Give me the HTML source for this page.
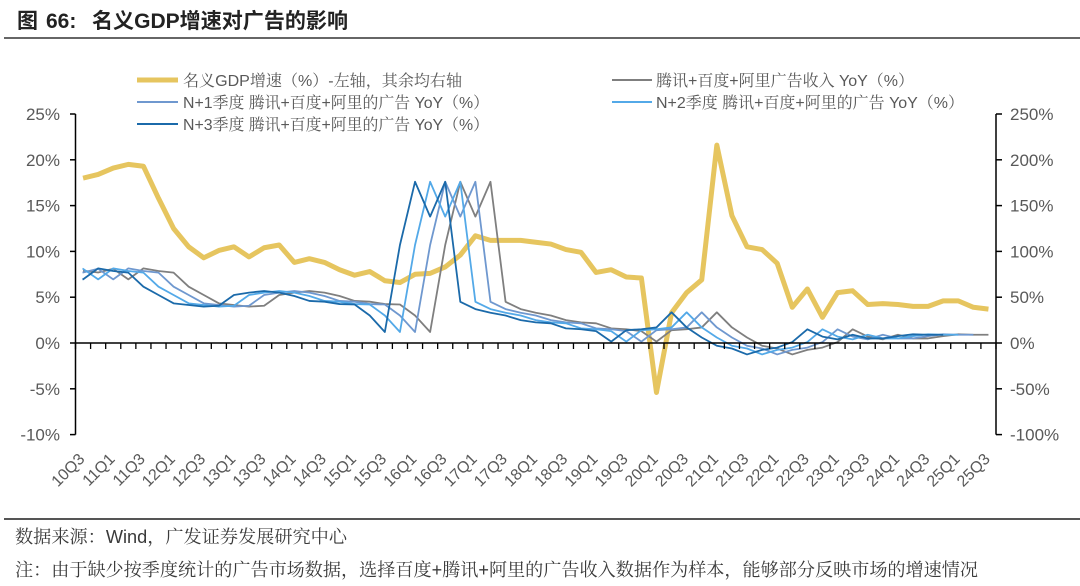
<!DOCTYPE html>
<html>
<head>
<meta charset="utf-8">
<style>
  html,body{margin:0;padding:0;background:#fff;}
  body{width:1080px;height:586px;overflow:hidden;}
  svg{display:block;}
  .lg{font-family:"Liberation Sans","Noto Serif CJK SC",serif;font-size:16px;fill:#595959;}
  .ax{font-family:"Liberation Sans",sans-serif;font-size:17px;fill:#595959;}
  .xl{font-family:"Liberation Sans",sans-serif;font-size:16px;fill:#595959;}
  .ft{font-family:"Liberation Sans","Noto Serif CJK SC",serif;font-size:18px;fill:#3a3a3a;}
  .tt{font-family:"Liberation Sans","Noto Sans CJK SC",sans-serif;font-size:21px;font-weight:bold;fill:#222;}
</style>
</head>
<body>
<svg width="1080" height="586" viewBox="0 0 1080 586" xmlns="http://www.w3.org/2000/svg">
  <rect x="0" y="0" width="1080" height="586" fill="#fff"/>

  <!-- Title -->
  <text class="tt" x="17" y="28">图</text>
  <text class="tt" x="46" y="28">66:</text>
  <text class="tt" x="92" y="28" textLength="256" lengthAdjust="spacingAndGlyphs">名义GDP增速对广告的影响</text>
  <line x1="4" y1="38" x2="1080" y2="38" stroke="#333" stroke-width="1.5"/>

  <!-- Legend -->
  <line x1="137" y1="80" x2="178" y2="80" stroke="#E6C55F" stroke-width="5"/>
  <text class="lg" x="183" y="86" textLength="279" lengthAdjust="spacingAndGlyphs">名义GDP增速（%）-左轴，其余均右轴</text>
  <line x1="137" y1="102" x2="178" y2="102" stroke="#6F98CF" stroke-width="2"/>
  <text class="lg" x="183" y="108" textLength="306" lengthAdjust="spacingAndGlyphs">N+1季度 腾讯+百度+阿里的广告 YoY（%）</text>
  <line x1="137" y1="124" x2="178" y2="124" stroke="#1B6AAA" stroke-width="2"/>
  <text class="lg" x="183" y="130" textLength="306" lengthAdjust="spacingAndGlyphs">N+3季度 腾讯+百度+阿里的广告 YoY（%）</text>
  <line x1="612" y1="80" x2="652" y2="80" stroke="#7F7F7F" stroke-width="2"/>
  <text class="lg" x="656" y="86" textLength="258" lengthAdjust="spacingAndGlyphs">腾讯+百度+阿里广告收入 YoY（%）</text>
  <line x1="612" y1="102" x2="652" y2="102" stroke="#53A9E8" stroke-width="2"/>
  <text class="lg" x="656" y="108" textLength="308" lengthAdjust="spacingAndGlyphs">N+2季度 腾讯+百度+阿里的广告 YoY（%）</text>

  <!-- Axes -->
  <line x1="75.5" y1="114" x2="75.5" y2="434.6" stroke="#000" stroke-width="1.5"/>
  <line x1="996" y1="114" x2="996" y2="434.6" stroke="#000" stroke-width="1.5"/>
  <g stroke="#000" stroke-width="1.5">
    <line x1="70" y1="114" x2="75.5" y2="114"/>
    <line x1="70" y1="159.8" x2="75.5" y2="159.8"/>
    <line x1="70" y1="205.6" x2="75.5" y2="205.6"/>
    <line x1="70" y1="251.4" x2="75.5" y2="251.4"/>
    <line x1="70" y1="297.2" x2="75.5" y2="297.2"/>
    <line x1="70" y1="343" x2="75.5" y2="343"/>
    <line x1="70" y1="388.8" x2="75.5" y2="388.8"/>
    <line x1="70" y1="434.6" x2="75.5" y2="434.6"/>
    <line x1="996" y1="114" x2="1002" y2="114"/>
    <line x1="996" y1="159.8" x2="1002" y2="159.8"/>
    <line x1="996" y1="205.6" x2="1002" y2="205.6"/>
    <line x1="996" y1="251.4" x2="1002" y2="251.4"/>
    <line x1="996" y1="297.2" x2="1002" y2="297.2"/>
    <line x1="996" y1="343" x2="1002" y2="343"/>
    <line x1="996" y1="388.8" x2="1002" y2="388.8"/>
    <line x1="996" y1="434.6" x2="1002" y2="434.6"/>
  </g>

  <!-- Left labels -->
  <g class="ax" text-anchor="end">
    <text x="60" y="120">25%</text>
    <text x="60" y="165.8">20%</text>
    <text x="60" y="211.6">15%</text>
    <text x="60" y="257.4">10%</text>
    <text x="60" y="303.2">5%</text>
    <text x="60" y="349">0%</text>
    <text x="60" y="394.8">-5%</text>
    <text x="60" y="440.6">-10%</text>
  </g>
  <!-- Right labels -->
  <g class="ax">
    <text x="1010" y="120">250%</text>
    <text x="1010" y="165.8">200%</text>
    <text x="1010" y="211.6">150%</text>
    <text x="1010" y="257.4">100%</text>
    <text x="1010" y="303.2">50%</text>
    <text x="1010" y="349">0%</text>
    <text x="1010" y="394.8">-50%</text>
    <text x="1010" y="440.6">-100%</text>
  </g>

  <!-- Series -->
  <defs>
    <clipPath id="cp"><rect x="82.5" y="100" width="915" height="350"/></clipPath>
  </defs>

  <!-- GDP (left axis) -->
  <g transform="translate(83.05,343) scale(15.09,9.16)">
    <polyline fill="none" stroke="#E6C55F" stroke-width="5" stroke-linejoin="round" vector-effect="non-scaling-stroke"
      points="0,-18 1,-18.4 2,-19.1 3,-19.5 4,-19.3 5,-15.8 6,-12.5 7,-10.5 8,-9.3 9,-10.1 10,-10.5 11,-9.4 12,-10.4 13,-10.7 14,-8.8 15,-9.2 16,-8.8 17,-8 18,-7.4 19,-7.8 20,-6.8 21,-6.6 22,-7.5 23,-7.6 24,-8.3 25,-9.6 26,-11.7 27,-11.2 28,-11.2 29,-11.2 30,-11 31,-10.8 32,-10.2 33,-9.9 34,-7.7 35,-8 36,-7.2 37,-7.1 38,5.4 39,-3.3 40,-5.5 41,-6.9 42,-21.6 43,-13.9 44,-10.5 45,-10.2 46,-8.7 47,-3.9 48,-5.9 49,-2.8 50,-5.5 51,-5.7 52,-4.2 53,-4.3 54,-4.2 55,-4 56,-4 57,-4.6 58,-4.6 59,-3.9 60,-3.7"/>
  </g>

  <g clip-path="url(#cp)">
    <!-- Base gray -->
    <g transform="translate(83.05,343) scale(15.09,0.916)">
      <polyline id="base" fill="none" stroke="#7F7F7F" stroke-width="1.8" stroke-linejoin="round" vector-effect="non-scaling-stroke"
        points="0,-79 1,-77 2,-81 3,-69.5 4,-81.5 5,-78.6 6,-76.8 7,-61.5 8,-52.4 9,-43.3 10,-41.5 11,-39.7 12,-40.7 13,-52.4 14,-55 15,-56.8 16,-55 17,-51.3 18,-45.9 19,-45.1 20,-42.5 21,-42 22,-30 23,-12 24,-107 25,-176 26,-138 27,-176 28,-45 29,-37 30,-33 31,-30 32,-25 33,-22.5 34,-21.5 35,-16 36,-15 37,-13 38,-1.5 39,-14 40,-15 41,-17 42,-33.5 43,-17 44,-6 45,3 46,6 47,12.5 48,7.5 49,5 50,-1 51,-15 52,-7 53,-4 54,-9 55,-5 56,-5 57,-7.5 58,-9.5 59,-9 60,-9"/>
    </g>
    <!-- N+1 -->
    <g transform="translate(67.96,343) scale(15.09,0.916)">
      <polyline fill="none" stroke="#6F98CF" stroke-width="1.8" stroke-linejoin="round" vector-effect="non-scaling-stroke"
        points="0,-79 1,-77 2,-81 3,-69.5 4,-81.5 5,-78.6 6,-76.8 7,-61.5 8,-52.4 9,-43.3 10,-41.5 11,-39.7 12,-40.7 13,-52.4 14,-55 15,-56.8 16,-55 17,-51.3 18,-45.9 19,-45.1 20,-42.5 21,-42 22,-30 23,-12 24,-107 25,-176 26,-138 27,-176 28,-45 29,-37 30,-33 31,-30 32,-25 33,-22.5 34,-21.5 35,-16 36,-15 37,-13 38,-1.5 39,-14 40,-15 41,-17 42,-33.5 43,-17 44,-6 45,3 46,6 47,12.5 48,7.5 49,5 50,-1 51,-15 52,-7 53,-4 54,-9 55,-5 56,-5 57,-7.5 58,-9.5 59,-9 60,-9"/>
    </g>
    <!-- N+2 -->
    <g transform="translate(52.87,343) scale(15.09,0.916)">
      <polyline fill="none" stroke="#53A9E8" stroke-width="1.8" stroke-linejoin="round" vector-effect="non-scaling-stroke"
        points="0,-79 1,-77 2,-81 3,-69.5 4,-81.5 5,-78.6 6,-76.8 7,-61.5 8,-52.4 9,-43.3 10,-41.5 11,-39.7 12,-40.7 13,-52.4 14,-55 15,-56.8 16,-55 17,-51.3 18,-45.9 19,-45.1 20,-42.5 21,-42 22,-30 23,-12 24,-107 25,-176 26,-138 27,-176 28,-45 29,-37 30,-33 31,-30 32,-25 33,-22.5 34,-21.5 35,-16 36,-15 37,-13 38,-1.5 39,-14 40,-15 41,-17 42,-33.5 43,-17 44,-6 45,3 46,6 47,12.5 48,7.5 49,5 50,-1 51,-15 52,-7 53,-4 54,-9 55,-5 56,-5 57,-7.5 58,-9.5 59,-9 60,-9"/>
    </g>
    <!-- N+3 -->
    <g transform="translate(37.78,343) scale(15.09,0.916)">
      <polyline fill="none" stroke="#1B6AAA" stroke-width="1.8" stroke-linejoin="round" vector-effect="non-scaling-stroke"
        points="0,-79 1,-77 2,-81 3,-69.5 4,-81.5 5,-78.6 6,-76.8 7,-61.5 8,-52.4 9,-43.3 10,-41.5 11,-39.7 12,-40.7 13,-52.4 14,-55 15,-56.8 16,-55 17,-51.3 18,-45.9 19,-45.1 20,-42.5 21,-42 22,-30 23,-12 24,-107 25,-176 26,-138 27,-176 28,-45 29,-37 30,-33 31,-30 32,-25 33,-22.5 34,-21.5 35,-16 36,-15 37,-13 38,-1.5 39,-14 40,-15 41,-17 42,-33.5 43,-17 44,-6 45,3 46,6 47,12.5 48,7.5 49,5 50,-1 51,-15 52,-7 53,-4 54,-9 55,-5 56,-5 57,-7.5 58,-9.5 59,-9 60,-9"/>
    </g>
  </g>

  <!-- Category axis (zero line) and ticks -->
  <line x1="75.5" y1="343" x2="996" y2="343" stroke="#000" stroke-width="1.5"/>
  <line x1="74.85" y1="346" x2="997" y2="346" stroke="#000" stroke-width="6" stroke-dasharray="1.3,13.79"/>

  <!-- X labels -->
  <g class="xl" text-anchor="end">
    <text transform="translate(85.55,460) rotate(-45)">10Q3</text>
    <text transform="translate(115.73,460) rotate(-45)">11Q1</text>
    <text transform="translate(145.91,460) rotate(-45)">11Q3</text>
    <text transform="translate(176.09,460) rotate(-45)">12Q1</text>
    <text transform="translate(206.27,460) rotate(-45)">12Q3</text>
    <text transform="translate(236.45,460) rotate(-45)">13Q1</text>
    <text transform="translate(266.63,460) rotate(-45)">13Q3</text>
    <text transform="translate(296.81,460) rotate(-45)">14Q1</text>
    <text transform="translate(326.99,460) rotate(-45)">14Q3</text>
    <text transform="translate(357.17,460) rotate(-45)">15Q1</text>
    <text transform="translate(387.35,460) rotate(-45)">15Q3</text>
    <text transform="translate(417.53,460) rotate(-45)">16Q1</text>
    <text transform="translate(447.71,460) rotate(-45)">16Q3</text>
    <text transform="translate(477.89,460) rotate(-45)">17Q1</text>
    <text transform="translate(508.07,460) rotate(-45)">17Q3</text>
    <text transform="translate(538.25,460) rotate(-45)">18Q1</text>
    <text transform="translate(568.43,460) rotate(-45)">18Q3</text>
    <text transform="translate(598.61,460) rotate(-45)">19Q1</text>
    <text transform="translate(628.79,460) rotate(-45)">19Q3</text>
    <text transform="translate(658.97,460) rotate(-45)">20Q1</text>
    <text transform="translate(689.15,460) rotate(-45)">20Q3</text>
    <text transform="translate(719.33,460) rotate(-45)">21Q1</text>
    <text transform="translate(749.51,460) rotate(-45)">21Q3</text>
    <text transform="translate(779.69,460) rotate(-45)">22Q1</text>
    <text transform="translate(809.87,460) rotate(-45)">22Q3</text>
    <text transform="translate(840.05,460) rotate(-45)">23Q1</text>
    <text transform="translate(870.23,460) rotate(-45)">23Q3</text>
    <text transform="translate(900.41,460) rotate(-45)">24Q1</text>
    <text transform="translate(930.59,460) rotate(-45)">24Q3</text>
    <text transform="translate(960.77,460) rotate(-45)">25Q1</text>
    <text transform="translate(990.95,460) rotate(-45)">25Q3</text>
  </g>

  <!-- Footer -->
  <line x1="4" y1="519" x2="1080" y2="519" stroke="#555" stroke-width="2"/>
  <text class="ft" x="15" y="543" textLength="332" lengthAdjust="spacingAndGlyphs">数据来源：Wind，广发证券发展研究中心</text>
  <text class="ft" x="15" y="576" textLength="963" lengthAdjust="spacingAndGlyphs">注：由于缺少按季度统计的广告市场数据，选择百度+腾讯+阿里的广告收入数据作为样本，能够部分反映市场的增速情况</text>
</svg>
</body>
</html>
